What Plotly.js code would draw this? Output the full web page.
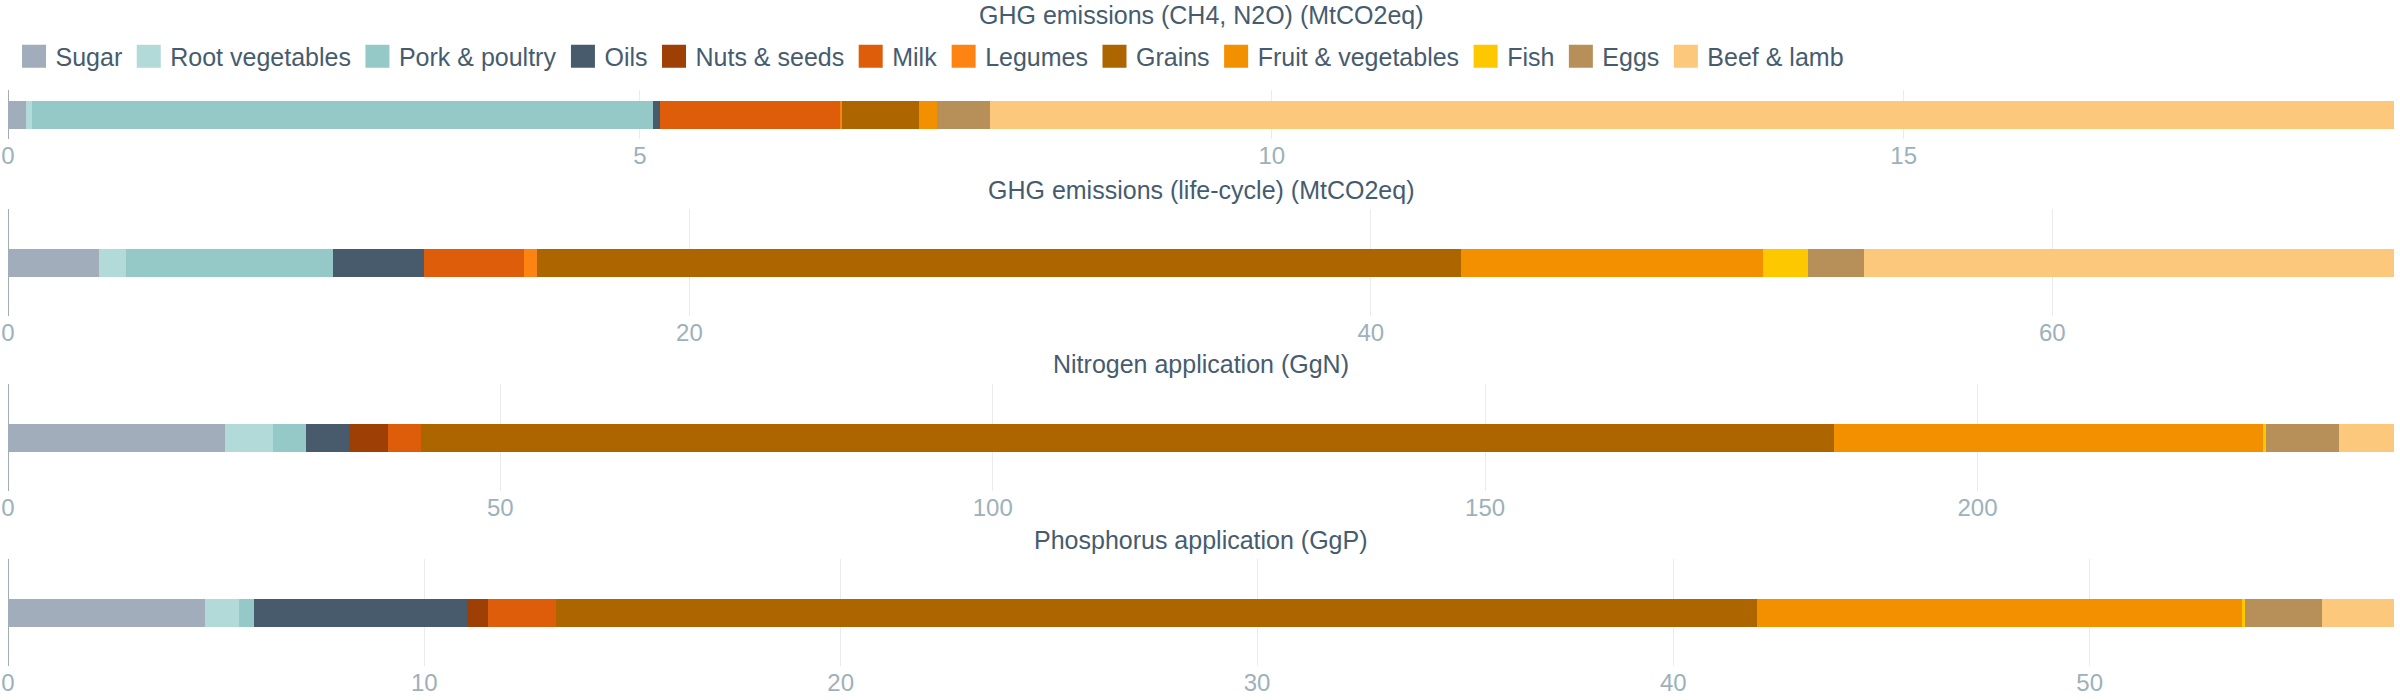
<!DOCTYPE html>
<html>
<head>
<meta charset="utf-8">
<script src="https://cdn.plot.ly/plotly-3.0.1.min.js"></script>
<style>body{margin:0;background:#fff;}</style>
</head>
<body>
<div id="chart" style="width:2400px;height:700px;"></div>
<script>
// Metrics (one stacked bar each)
const metrics = [
  "GHG emissions (CH4, N2O) (MtCO2eq)",
  "GHG emissions (life-cycle) (MtCO2eq)",
  "Nitrogen application (GgN)",
  "Phosphorus application (GgP)"
];
// Food groups, in stacking / legend order
const categories = ["Sugar","Root vegetables","Pork & poultry","Oils","Nuts & seeds","Milk",
  "Legumes","Grains","Fruit & vegetables","Fish","Eggs","Beef & lamb"];
const colors = ["#a1adba","#b2dad8","#94c9c7","#475b6d","#9e3f06","#de5d0a",
  "#fd8412","#ad6500","#f29000","#fdc800","#b68f59","#fcc87c"];

// values per food group: [CH4/N2O, life-cycle, nitrogen, phosphorus]
const sugar        = [0.14,  2.66,  22.07,  4.72];
const rootVeg      = [0.05,  0.81,   4.89,  0.83];
const porkPoultry  = [4.91,  6.06,   3.26,  0.35];
const oils         = [0.05,  2.68,   4.43,  5.12];
const nutsSeeds    = [0.01,  0.00,   3.96,  0.52];
const milk         = [1.42,  2.94,   3.34,  1.63];
const legumes      = [0.02,  0.38,   0.00,  0.00];
const grains       = [0.61, 27.12, 143.45, 28.84];
const fruitVeg     = [0.14,  8.86,  43.58, 11.65];
const fish         = [0.00,  1.31,   0.30,  0.06];
const eggs         = [0.42,  1.66,   7.39,  1.85];
const beefLamb     = [11.11, 15.55,  5.63,  1.74];
const seriesValues = [sugar, rootVeg, porkPoultry, oils, nutsSeeds, milk,
  legumes, grains, fruitVeg, fish, eggs, beefLamb];
const tickSteps = [5, 20, 50, 10];

// layout geometry
const H = 700;
const plotTops = [90, 209, 384, 559];
const plotBottoms = [139, 316, 491, 666];
const titleCenters = [15, 190, 364, 540];
const barPx = 28;

const traces = [];
categories.forEach((cat, ci) => {
  metrics.forEach((m, mi) => {
    const sfx = mi === 0 ? "" : String(mi + 1);
    traces.push({
      type: "bar",
      orientation: "h",
      x: [seriesValues[ci][mi]],
      y: [0],
      width: 1,
      name: cat,
      legendgroup: cat,
      showlegend: mi === 0,
      marker: {color: colors[ci], line: {width: 0}},
      xaxis: "x" + sfx,
      yaxis: "y" + sfx,
      hovertemplate: cat + ": %{x}<extra></extra>"
    });
  });
});

const layout = {
  width: 2400, height: 700,
  margin: {l: 8, r: 6, t: 0, b: 0},
  barmode: "stack",
  bargap: 0,
  paper_bgcolor: "#fff",
  plot_bgcolor: "#fff",
  font: {family: "Liberation Sans, Arial, sans-serif", size: 25, color: "#465c6e"},
  showlegend: true,
  legend: {
    orientation: "h", x: 0.0019, xanchor: "left", y: 1 - 56.5 / H, yanchor: "middle",
    itemwidth: 33,
    traceorder: "normal", font: {size: 25, color: "#465c6e"}, bgcolor: "rgba(0,0,0,0)"
  },
  annotations: []
};

metrics.forEach((m, mi) => {
  const sfx = mi === 0 ? "" : String(mi + 1);
  const total = seriesValues.reduce((s, arr) => s + arr[mi], 0);
  const top = plotTops[mi], bot = plotBottoms[mi];
  const half = (bot - top) / barPx / 2;
  layout["xaxis" + sfx] = {
    anchor: "y" + sfx,
    domain: [0, 1],
    range: [0, total],
    dtick: tickSteps[mi], tick0: 0,
    showgrid: true, gridcolor: "#ebebeb", gridwidth: 1,
    zeroline: true, zerolinecolor: "#a3adb7", zerolinewidth: 1,
    showline: false,
    ticks: "",
    tickfont: {size: 24, color: "#9cb1bb"}
  };
  layout["yaxis" + sfx] = {
    anchor: "x" + sfx,
    domain: [1 - bot / H, 1 - top / H],
    range: [-half, half],
    showgrid: false, zeroline: false, showticklabels: false, ticks: "", fixedrange: true
  };
  layout.annotations.push({
    text: m, xref: "paper", yref: "paper", x: 0.5, y: 1 - titleCenters[mi] / H,
    xanchor: "center", yanchor: "middle", showarrow: false,
    font: {size: 25, color: "#465c6e"}
  });
});

Plotly.newPlot("chart", traces, layout, {displayModeBar: false, staticPlot: true}).then(() => {
  document.querySelectorAll(".legend .legendpoints path").forEach(p => {
    const t = p.getAttribute("transform") || "";
    p.setAttribute("transform", t + " scale(2,1.92)");
  });
});
</script>
</body>
</html>
